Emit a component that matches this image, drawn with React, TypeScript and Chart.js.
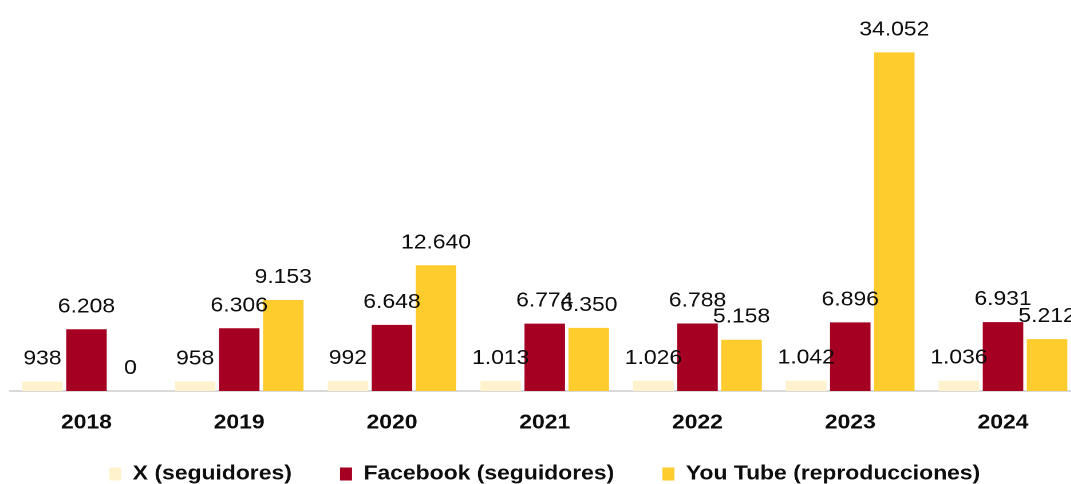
import React, { useEffect, useRef } from "react";
import { Chart, registerables } from "chart.js";

Chart.register(...registerables);

const years = ["2018", "2019", "2020", "2021", "2022", "2023", "2024"];
const xFollowers = [938, 958, 992, 1013, 1026, 1042, 1036];
const facebookFollowers = [6208, 6306, 6648, 6774, 6788, 6896, 6931];
const youtubeViews = [0, 9153, 12640, 6350, 5158, 34052, 5212];
const seriesNames = ["X (seguidores)", "Facebook (seguidores)", "You Tube (reproducciones)"];
const seriesColors = ["#FFF2CC", "#A50021", "#FFCC2E"];

const STRETCH = 1.145;
const W = 945;
const H = 500;

const fmt = (n: number) => String(n).replace(/\B(?=(\d{3})+(?!\d))/g, ".");

const valueLabels = {
  id: "valueLabels",
  afterDatasetsDraw(chart: any) {
    const ctx = chart.ctx;
    ctx.save();
    ctx.font = '20px "Liberation Sans", Arial, sans-serif';
    ctx.fillStyle = "#0d0d0d";
    ctx.textAlign = "center";
    ctx.textBaseline = "alphabetic";
    chart.data.datasets.forEach((ds: any, i: number) => {
      const meta = chart.getDatasetMeta(i);
      meta.data.forEach((el: any, j: number) => {
        ctx.fillText(fmt(ds.data[j]), el.x, el.y - 17);
      });
    });
    ctx.restore();
  },
};

export default function App() {
  const ref = useRef<HTMLCanvasElement>(null);
  useEffect(() => {
    if (!ref.current) return;
    const data = [xFollowers, facebookFollowers, youtubeViews];
    const chart = new Chart(ref.current, {
      type: "bar",
      data: {
        labels: years,
        datasets: data.map((d, i) => ({
          label: seriesNames[i],
          data: d,
          backgroundColor: seriesColors[i],
          borderWidth: 0,
          categoryPercentage: 0.865,
          barPercentage: 0.92,
        })),
      },
      options: {
        animation: false,
        responsive: false,
        devicePixelRatio: 2,
        layout: { padding: { top: 33, left: 8.8, right: 2.3, bottom: 6 } },
        plugins: {
          tooltip: { enabled: false },
          legend: {
            position: "bottom",
            labels: {
              boxWidth: 10.5,
              boxHeight: 13,
              padding: 31,
              color: "#0d0d0d",
              font: { family: '"Liberation Sans", Arial, sans-serif', size: 20, weight: "bold" },
              generateLabels: (chart: any) => {
                const items = Chart.defaults.plugins.legend.labels.generateLabels(chart);
                return items.map((it: any, i: number) =>
                  i < items.length - 1 ? { ...it, text: it.text + "\u00A0\u00A0" } : it
                );
              },
            },
          },
        },
        scales: {
          x: {
            grid: { display: false, drawTicks: false },
            border: { display: true, color: "#d9d9d9", width: 2 },
            ticks: {
              padding: 20,
              color: "#0d0d0d",
              font: { family: '"Liberation Sans", Arial, sans-serif', size: 20, weight: "bold" },
            },
            afterFit: (scale: any) => {
              scale.height = 42;
            },
          },
          y: { display: false, min: 0, max: 36000 },
        },
      },
      plugins: [valueLabels],
    });
    return () => chart.destroy();
  }, []);
  return (
    <div
      style={{
        position: "fixed",
        top: 0,
        left: 0,
        width: 1071,
        height: 484,
        overflow: "hidden",
        background: "#fff",
      }}
    >
      <div style={{ width: W, height: H, transform: `scaleX(${STRETCH})`, transformOrigin: "0 0" }}>
        <canvas ref={ref} width={W} height={H} />
      </div>
    </div>
  );
}
